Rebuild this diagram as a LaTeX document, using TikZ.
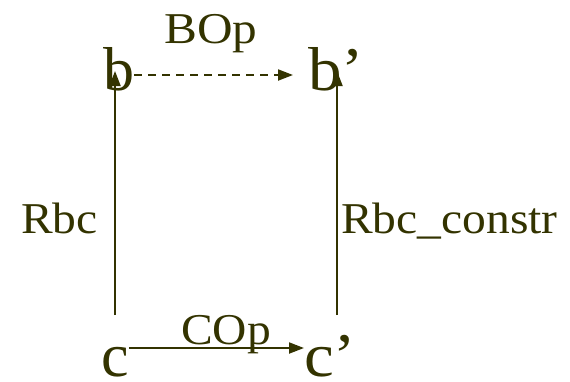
\documentclass[tikz,border=0pt]{standalone}
\usepackage{fontspec}
\setmainfont{Liberation Serif}
\usetikzlibrary{arrows.meta}
\definecolor{ink}{RGB}{51,51,0}
\tikzset{
  letter/.style={inner sep=0pt, anchor=base west, text=ink, font=\fontsize{62}{62}\selectfont},
  lab/.style={inner sep=0pt, anchor=base west, text=ink, font=\fontsize{44}{44}\selectfont},
  conn/.style={draw=ink, line width=2pt, -{Triangle[length=15pt,width=11pt]}},
}
\newcommand{\wide}[1]{\scalebox{1.08}[1]{#1}}
\begin{document}
\begin{tikzpicture}[x=1pt,y=-1pt]
\useasboundingbox (0,0) rectangle (570,381);
\node[letter] (b) at (103,90) {b};
\node[letter] (bp) at (308,90) {\scalebox{1.08}[1]{b’}};
\node[letter] (c) at (101,376) {c};
\node[letter] (cp) at (304,376) {\scalebox{1.08}[1]{c’}};
\node[lab] (bop) at (164,43) {\scalebox{1.12}[1]{BOp}};
\node[lab] (cop) at (181,344) {\wide{COp}};
\node[lab] (rbc) at (21,233) {\wide{Rbc}};
\node[lab] (rbcc) at (341,233) {\wide{Rbc\_constr}};
\coordinate (topy) at (0,75);
\coordinate (boty) at (0,348);
\coordinate (botL) at (115,315);
\coordinate (botR) at (337,315);
\coordinate (tipy) at (0,71);
\draw[conn, dashed, dash pattern=on 8pt off 6pt] (b.east |- topy) -- ([xshift=-15pt]bp.west |- topy);
\draw[conn] (c.east |- boty) -- (cp.west |- boty);
\draw[conn] (botL) -- (botL |- tipy);
\draw[conn] (botR) -- (botR |- tipy);
\end{tikzpicture}
\end{document}
